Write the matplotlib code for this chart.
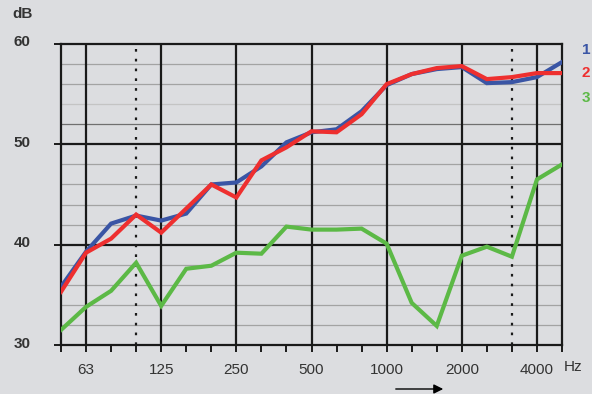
import matplotlib
matplotlib.use("Agg")
import matplotlib.pyplot as plt
from matplotlib.transforms import ScaledTranslation

plt.rcParams['font.family'] = ['Liberation Sans', 'DejaVu Sans']

freqs = ["50", "63", "80", "100", "125", "160", "200", "250", "315", "400", "500",
         "630", "800", "1000", "1250", "1600", "2000", "2500", "3150", "4000", "5000"]
series1 = [35.8, 39.3, 42.1, 42.9, 42.4, 43.1, 46.0, 46.2, 47.8, 50.2, 51.2,
           51.5, 53.3, 55.9, 57.0, 57.5, 57.7, 56.1, 56.2, 56.7, 58.2]
series2 = [35.3, 39.2, 40.6, 43.0, 41.2, 43.6, 46.0, 44.7, 48.4, 49.7, 51.3,
           51.2, 53.0, 56.0, 57.0, 57.6, 57.8, 56.5, 56.7, 57.1, 57.1]
series3 = [31.5, 33.8, 35.4, 38.2, 33.9, 37.6, 37.9, 39.2, 39.1, 41.8, 41.5,
           41.5, 41.6, 40.1, 34.2, 31.9, 38.9, 39.8, 38.8, 46.5, 48.0]
xtick_labels = ["63", "125", "250", "500", "1000", "2000", "4000"]
ytick_labels = ["30", "40", "50", "60"]
series_names = ["1", "2", "3"]

bg = "#dcdde0"
c1, c2, c3 = "#3a55a5", "#ee2f2f", "#5cb946"
txt = "#333333"

fig = plt.figure(figsize=(5.92, 3.94), dpi=100, facecolor=bg)
ax = fig.add_axes([61/592, 1-345/394, (562-61)/592, (345-44)/394], facecolor=bg)

idx = list(range(len(freqs)))
ax.set_xlim(0, len(freqs) - 1)
ax.set_ylim(30, 60)

# minor horizontal grid every 2 dB
for v in range(32, 60, 2):
    if v % 10 != 0:
        col = "#a3a3a3"
        if v == 54:
            col = "#c4c4c4"
        elif v == 52:
            col = "#707070"
        ax.axhline(v, color=col, lw=0.9, zorder=1)
for v in (40, 50):
    ax.axhline(v, color="#1a1a1a", lw=1.6, zorder=2)

# vertical lines
for lab in xtick_labels:
    ax.axvline(freqs.index(lab), color="#1a1a1a", lw=1.6, zorder=2)
for lab in ("100", "3150"):
    ax.axvline(freqs.index(lab), color="#1a1a1a", lw=1.6, ls=(0, (1.2, 3.2)), zorder=2)

for s in ax.spines.values():
    s.set_color("#1a1a1a")
    s.set_linewidth(1.6)

ax.plot(idx, series3, color=c3, lw=3.0, zorder=5, solid_joinstyle="miter")
ax.plot(idx, series1, color=c1, lw=3.0, zorder=6, solid_joinstyle="miter")
ax.plot(idx, series2, color=c2, lw=3.0, zorder=7, solid_joinstyle="miter")

# ticks
ax.set_xticks(idx)
ax.set_xticklabels([f if f in xtick_labels else "" for f in freqs])
ax.tick_params(axis="x", direction="out", length=5, width=1.4, color="#1a1a1a",
               labelsize=11, labelcolor=txt, pad=8)
ax.set_yticks([int(v) for v in ytick_labels])
ax.set_yticklabels(ytick_labels, fontweight="bold")
ax.tick_params(axis="y", direction="out", length=5, width=1.4, color="#1a1a1a",
               labelsize=11, labelcolor=txt, pad=17)
shift = ScaledTranslation(0, 3/100, fig.dpi_scale_trans)
for t in ax.get_yticklabels():
    t.set_transform(t.get_transform() + shift)

fig.text(12/592, 1-14/394, "dB", fontsize=11, fontweight="bold", color=txt,
         va="center", ha="left")
fig.text(564/592, 1-367/394, "Hz", fontsize=11, color=txt, va="center", ha="left")

for name, y, c in zip(series_names, (50, 73, 98), (c1, c2, c3)):
    fig.text(586/592, 1-y/394, name, fontsize=11, fontweight="bold", color=c,
             va="center", ha="center")

ax.annotate("", xy=(446/592, 1-389/394), xytext=(393/592, 1-389/394),
            xycoords="figure fraction", textcoords="figure fraction",
            arrowprops=dict(arrowstyle="-|>", color="black", lw=1.0,
                            mutation_scale=14))

fig.savefig("out.png", dpi=100, facecolor=bg)
